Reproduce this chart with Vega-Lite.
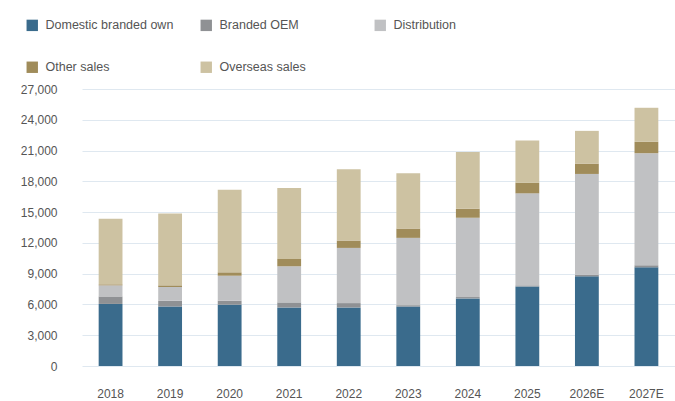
{
  "$schema": "https://vega.github.io/schema/vega-lite/v6.json",
  "autosize": {"type": "none"},
  "width": 593,
  "height": 277,
  "padding": {"left": 82, "top": 89, "right": 0, "bottom": 35},
  "background": "white",
  "config": {
    "view": {"stroke": null},
    "font": "Liberation Sans",
    "axis": {"labelFont": "Liberation Sans", "labelColor": "#555555", "labelFontSize": 12}
  },
  "data": {
    "values": [
      {"year": "2018", "segment": "Domestic branded own", "o": 1, "value": 6050},
      {"year": "2018", "segment": "Branded OEM", "o": 2, "value": 730},
      {"year": "2018", "segment": "Distribution", "o": 3, "value": 1080},
      {"year": "2018", "segment": "Other sales", "o": 4, "value": 100},
      {"year": "2018", "segment": "Overseas sales", "o": 5, "value": 6390},
      {"year": "2019", "segment": "Domestic branded own", "o": 1, "value": 5800},
      {"year": "2019", "segment": "Branded OEM", "o": 2, "value": 560},
      {"year": "2019", "segment": "Distribution", "o": 3, "value": 1340},
      {"year": "2019", "segment": "Other sales", "o": 4, "value": 160},
      {"year": "2019", "segment": "Overseas sales", "o": 5, "value": 7010},
      {"year": "2020", "segment": "Domestic branded own", "o": 1, "value": 5970},
      {"year": "2020", "segment": "Branded OEM", "o": 2, "value": 390},
      {"year": "2020", "segment": "Distribution", "o": 3, "value": 2440},
      {"year": "2020", "segment": "Other sales", "o": 4, "value": 330},
      {"year": "2020", "segment": "Overseas sales", "o": 5, "value": 8060},
      {"year": "2021", "segment": "Domestic branded own", "o": 1, "value": 5710},
      {"year": "2021", "segment": "Branded OEM", "o": 2, "value": 490},
      {"year": "2021", "segment": "Distribution", "o": 3, "value": 3520},
      {"year": "2021", "segment": "Other sales", "o": 4, "value": 720},
      {"year": "2021", "segment": "Overseas sales", "o": 5, "value": 6910},
      {"year": "2022", "segment": "Domestic branded own", "o": 1, "value": 5710},
      {"year": "2022", "segment": "Branded OEM", "o": 2, "value": 420},
      {"year": "2022", "segment": "Distribution", "o": 3, "value": 5380},
      {"year": "2022", "segment": "Other sales", "o": 4, "value": 720},
      {"year": "2022", "segment": "Overseas sales", "o": 5, "value": 6940},
      {"year": "2023", "segment": "Domestic branded own", "o": 1, "value": 5800},
      {"year": "2023", "segment": "Branded OEM", "o": 2, "value": 130},
      {"year": "2023", "segment": "Distribution", "o": 3, "value": 6560},
      {"year": "2023", "segment": "Other sales", "o": 4, "value": 910},
      {"year": "2023", "segment": "Overseas sales", "o": 5, "value": 5380},
      {"year": "2024", "segment": "Domestic branded own", "o": 1, "value": 6590},
      {"year": "2024", "segment": "Branded OEM", "o": 2, "value": 130},
      {"year": "2024", "segment": "Distribution", "o": 3, "value": 7730},
      {"year": "2024", "segment": "Other sales", "o": 4, "value": 880},
      {"year": "2024", "segment": "Overseas sales", "o": 5, "value": 5540},
      {"year": "2025", "segment": "Domestic branded own", "o": 1, "value": 7760},
      {"year": "2025", "segment": "Branded OEM", "o": 2, "value": 100},
      {"year": "2025", "segment": "Distribution", "o": 3, "value": 8970},
      {"year": "2025", "segment": "Other sales", "o": 4, "value": 1040},
      {"year": "2025", "segment": "Overseas sales", "o": 5, "value": 4110},
      {"year": "2026E", "segment": "Domestic branded own", "o": 1, "value": 8740},
      {"year": "2026E", "segment": "Branded OEM", "o": 2, "value": 160},
      {"year": "2026E", "segment": "Distribution", "o": 3, "value": 9820},
      {"year": "2026E", "segment": "Other sales", "o": 4, "value": 1010},
      {"year": "2026E", "segment": "Overseas sales", "o": 5, "value": 3190},
      {"year": "2027E", "segment": "Domestic branded own", "o": 1, "value": 9620},
      {"year": "2027E", "segment": "Branded OEM", "o": 2, "value": 200},
      {"year": "2027E", "segment": "Distribution", "o": 3, "value": 10920},
      {"year": "2027E", "segment": "Other sales", "o": 4, "value": 1110},
      {"year": "2027E", "segment": "Overseas sales", "o": 5, "value": 3320}
    ]
  },
  "mark": {"type": "bar"},
  "encoding": {
    "x": {
      "field": "year", "type": "nominal", "sort": null, "title": null,
      "scale": {"paddingInner": 0.6, "paddingOuter": 0.28},
      "axis": {"labelAngle": 0, "ticks": false, "domain": false, "labelPadding": 22, "grid": false}
    },
    "y": {
      "field": "value", "type": "quantitative", "aggregate": "sum", "stack": "zero", "title": null,
      "scale": {"domain": [0, 27000], "nice": false},
      "axis": {"values": [0, 3000, 6000, 9000, 12000, 15000, 18000, 21000, 24000, 27000], "format": ",d",
               "ticks": false, "domain": false, "labelPadding": 25, "gridColor": "#dfe8f0", "gridWidth": 1}
    },
    "color": {
      "field": "segment", "type": "nominal", "title": null,
      "sort": ["Domestic branded own", "Branded OEM", "Distribution", "Other sales", "Overseas sales"],
      "scale": {
        "domain": ["Domestic branded own", "Branded OEM", "Distribution", "Other sales", "Overseas sales"],
        "range": ["#3a6b8c", "#8f9194", "#c0c1c3", "#a08c5a", "#cdc2a2"]
      },
      "legend": {
        "orient": "none", "legendX": -56, "legendY": -70, "direction": "horizontal", "columns": 3, "gridAlign": "all",
        "columnPadding": 26, "rowPadding": 29, "symbolType": "square", "symbolSize": 130,
        "symbolStrokeWidth": 0, "labelFontSize": 12.5, "labelColor": "#555555", "labelOffset": 7,
        "labelLimit": 300
      }
    },
    "order": {"field": "o", "type": "quantitative"}
  }
}
